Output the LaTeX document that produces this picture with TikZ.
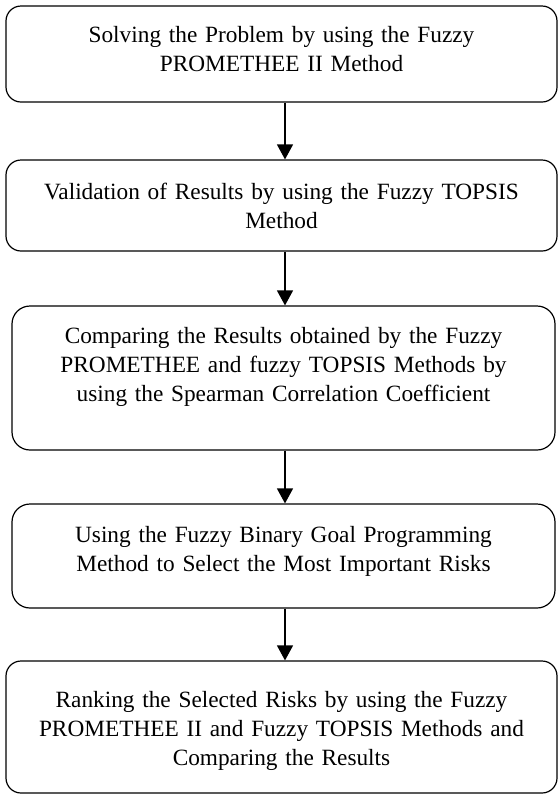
\documentclass[tikz,border=0pt]{standalone}
\usepackage{fontspec}
\setmainfont{Liberation Serif}
\usetikzlibrary{arrows.meta}
\begin{document}
\begin{tikzpicture}[x=1pt, y=-1pt]
	\tikzset{
		stage/.style={draw, rounded corners=15pt, line width=1.2pt, text width=520pt, align=center, inner xsep=4pt, font=\fontsize{23.3}{29}\selectfont},
		wide stage/.style={stage, minimum width=551pt},
		narrow stage/.style={stage, minimum width=543pt, rounded corners=18pt},
		flow/.style={-{Triangle[width=16pt, length=15pt]}, line width=1.4pt}
	}
	\newcommand\liftby[1]{\par\vspace{#1}\hrule height 0pt depth 0pt}
	\useasboundingbox (0,0) rectangle (558,796);
	% Steps of the procedure
	\node (solve) at (281.5,54) [wide stage, minimum height=96pt] {Solving the Problem by using the Fuzzy\\PROMETHEE II Method\liftby{10pt}};
	\node (valid) at (281.5,205.5) [wide stage, minimum height=91pt] {Validation of Results by using the Fuzzy TOPSIS\\Method};
	\node (compare) at (283.5,378) [narrow stage, minimum height=144pt] {Comparing the Results obtained by the Fuzzy\\PROMETHEE and fuzzy TOPSIS Methods by\\using the Spearman Correlation Coefficient\liftby{22pt}};
	\node (select) at (283.5,556) [narrow stage, minimum height=104pt] {Using the Fuzzy Binary Goal Programming\\Method to Select the Most Important Risks\liftby{10pt}};
	\node (rank) at (281.5,727) [wide stage, minimum height=132pt] {Ranking the Selected Risks by using the Fuzzy\\PROMETHEE II and Fuzzy TOPSIS Methods and\\Comparing the Results\liftby{-7pt}};

	% Arrows between the steps
	\draw[flow] ([xshift=3.5pt]solve.south) -- ([xshift=3.5pt]solve.south |- valid.north);
	\draw[flow] ([xshift=3.5pt]valid.south) -- ([xshift=3.5pt]valid.south |- compare.north);
	\draw[flow] ([xshift=1.5pt]compare.south) -- ([xshift=1.5pt]compare.south |- select.north);
	\draw[flow] ([xshift=1.5pt]select.south) -- ([xshift=1.5pt]select.south |- rank.north);
\end{tikzpicture}
\end{document}
